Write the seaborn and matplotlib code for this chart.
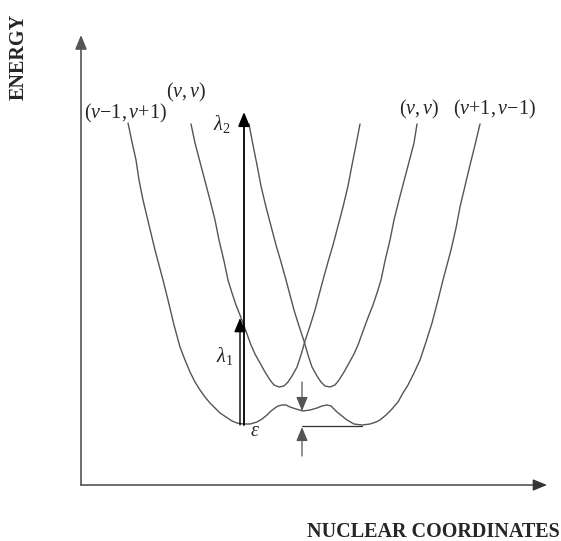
import matplotlib
matplotlib.use("Agg")
import matplotlib.pyplot as plt
import seaborn as sns

# energy curves (nuclear coordinate, energy)
ground_x = [47, 51, 55, 58, 62, 68, 74, 78, 82, 87, 93, 99, 104, 109, 114, 119, 124, 129, 134, 139,
            145, 151, 156, 162, 169, 176, 181, 186, 190, 194, 197, 201, 205, 209, 215, 222, 229,
            236, 241, 246, 250, 253, 256, 261, 266, 273, 281, 289, 295, 299, 305, 311, 317, 322,
            327, 333, 339, 345, 351, 357, 362, 366, 370, 375, 379, 384, 389, 394, 399]
ground_e = [362, 343, 325, 305, 285, 260, 235, 220, 205, 185, 160, 138, 125, 113, 103, 95, 88, 82, 77, 72,
            68, 64, 62, 61, 61, 63, 66, 70, 74, 77, 79, 80, 80, 78, 76, 74, 75,
            77, 79, 80, 79, 76, 73, 69, 65, 61, 60, 61, 63, 65, 70, 76, 83, 92,
            100, 112, 125, 143, 162, 185, 205, 220, 235, 257, 278, 299, 320, 340, 361]

left_vv_x = [110, 114, 119, 124, 129, 134, 138, 143, 147, 151, 155, 159, 162, 166, 170, 174, 179, 184, 189, 193,
             198, 203, 207, 211, 216, 220, 224, 229, 234, 238, 242, 247, 252, 257, 262, 267, 271, 275, 279]
left_vv_e = [361, 342, 323, 304, 285, 265, 245, 224, 205, 192, 180, 170, 162, 151, 140, 131, 122, 113, 105, 100,
             98, 99, 103, 109, 118, 130, 144, 159, 175, 190, 205, 223, 240, 259, 278, 299, 320, 340, 361]

right_vv_x = [168, 172, 176, 180, 185, 190, 195, 200, 205, 209, 213, 218, 223, 227, 231, 236, 240, 244, 249, 254,
              258, 263, 268, 273, 277, 281, 285, 288, 292, 296, 300, 304, 309, 313, 318, 323, 328, 333, 336]
right_vv_e = [361, 340, 320, 299, 278, 259, 240, 223, 205, 190, 175, 159, 144, 130, 118, 109, 103, 99, 98, 100,
              105, 113, 122, 131, 140, 151, 162, 170, 180, 192, 205, 224, 245, 265, 285, 304, 323, 342, 361]

# transitions and gap
lam2_x, lam2_e = 163, (60, 373)
lam1_x, lam1_e = 159, (60, 167)
eps_x = 221
eps_top = (103, 74)
eps_bot = (29, 58)
eps_line_x = (221, 281)
eps_line_e = 59

sns.set_style("white")
plt.rcParams['font.family'] = ['Liberation Serif', 'DejaVu Serif']
plt.rcParams['mathtext.fontset'] = 'custom'
plt.rcParams['mathtext.rm'] = 'Liberation Serif'
plt.rcParams['mathtext.it'] = 'Liberation Serif:italic'

fig = plt.figure(figsize=(5.61, 5.41), dpi=100)
ax = fig.add_axes([0, 0, 1, 1])
ax.set_xlim(-81, 480)
ax.set_ylim(-56, 485)
ax.axis('off')

curve_col = '#555555'
for cx, ce in [(ground_x, ground_e), (left_vv_x, left_vv_e), (right_vv_x, right_vv_e)]:
    sns.lineplot(x=cx, y=ce, sort=False, estimator=None, color=curve_col, lw=1.0, ax=ax)

head = '-|>,head_length=0.85,head_width=0.35'


def arrow(x0, y0, x1, y1, col, lw):
    ax.annotate('', xy=(x1, y1), xytext=(x0, y0),
                arrowprops=dict(arrowstyle=head, color=col, lw=lw, mutation_scale=10,
                                shrinkA=0, shrinkB=0))


# axes arrows
arrow(0, 0, 0, 450, '#555555', 1.2)
arrow(0, 0, 466, 0, '#333333', 1.0)

# lambda arrows
arrow(lam2_x, lam2_e[0], lam2_x, lam2_e[1], 'black', 1.3)
arrow(lam1_x, lam1_e[0], lam1_x, lam1_e[1], 'black', 1.0)

# epsilon marker
arrow(eps_x, eps_top[0], eps_x, eps_top[1], '#555555', 0.9)
arrow(eps_x, eps_bot[0], eps_x, eps_bot[1], '#555555', 0.9)
ax.plot(eps_line_x, [eps_line_e, eps_line_e], color='#333333', lw=0.9)

# labels
ax.text(-62, 428, 'ENERGY', rotation=90, ha='center', va='center', fontsize=14.5, fontweight='bold')
ax.text(352, -47, 'NUCLEAR COORDINATES', ha='center', va='center', fontsize=14.5, fontweight='bold')
ax.text(44.5, 372, r'$(v{-}1,v{+}1)$', ha='center', va='center', fontsize=14.5)
ax.text(105, 393, r'$(v,v)$', ha='center', va='center', fontsize=14.5)
ax.text(338, 376, r'$(v,v)$', ha='center', va='center', fontsize=14.5)
ax.text(414, 376, r'$(v{+}1,v{-}1)$', ha='center', va='center', fontsize=14.5)
ax.text(141, 361, r'$\lambda_2$', ha='center', va='center', fontsize=14.5)
ax.text(144, 129, r'$\lambda_1$', ha='center', va='center', fontsize=14.5)
ax.text(174, 53, r'$\varepsilon$', ha='center', va='center', fontsize=14.5)

plt.savefig('out.png', dpi=100)
